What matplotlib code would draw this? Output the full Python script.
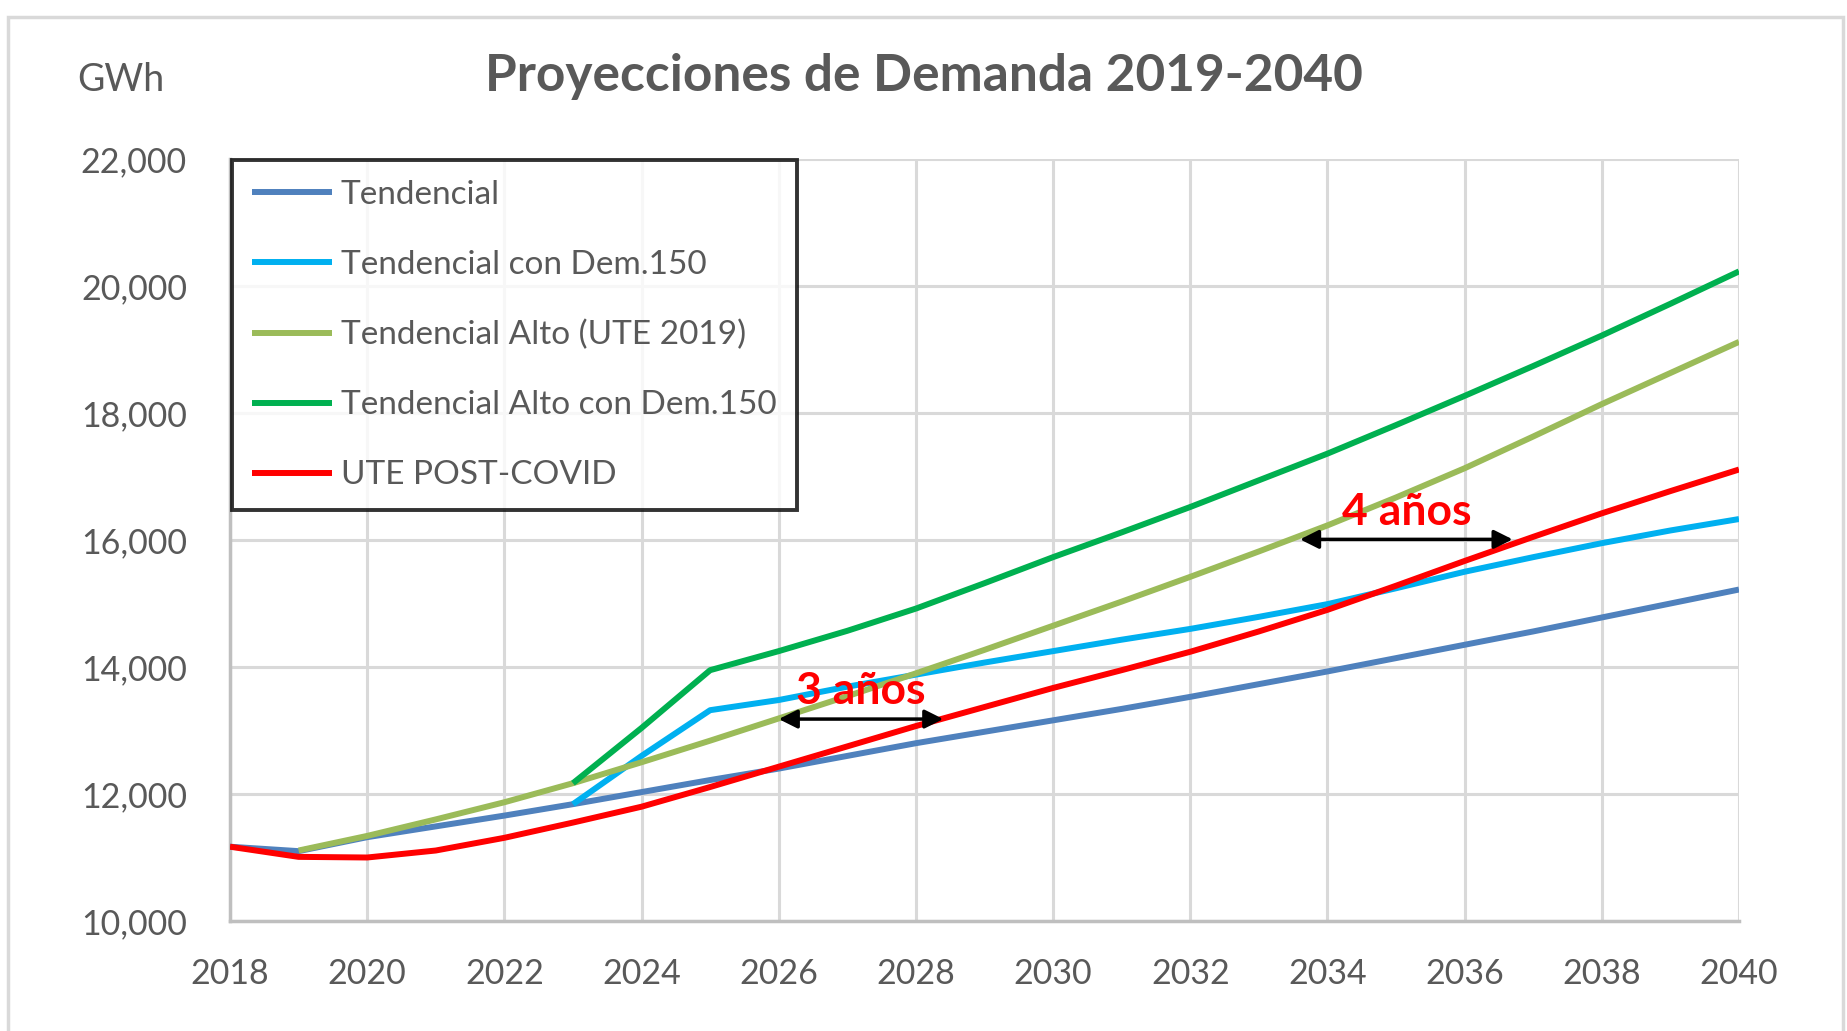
import numpy as np
import matplotlib
matplotlib.use("Agg")
import matplotlib.pyplot as plt
from matplotlib.patches import Rectangle
from matplotlib.ticker import FuncFormatter

plt.rcParams['font.family'] = ['Lato', 'DejaVu Sans']

years = list(range(2018, 2041))
nan = float('nan')

tendencial = [11170, 11100, 11320, 11490, 11660, 11840, 12030, 12220, 12400, 12600,
              12800, 12980, 13160, 13340, 13530, 13730, 13930, 14140, 14350, 14560,
              14780, 15000, 15220]
tend_dem150 = [nan, nan, nan, nan, nan, 11840, 12600, 13320, 13480, 13690,
               13880, 14070, 14250, 14430, 14600, 14790, 14990, 15240, 15500, 15730,
               15950, 16150, 16330]
tend_alto = [nan, 11110, 11340, 11600, 11870, 12170, 12500, 12840, 13190, 13540,
             13900, 14270, 14650, 15030, 15420, 15820, 16230, 16670, 17130, 17630,
             18140, 18630, 19120]
alto_dem150 = [nan, nan, nan, nan, nan, 12170, 13040, 13950, 14250, 14570,
               14920, 15320, 15730, 16120, 16520, 16940, 17360, 17810, 18270, 18740,
               19220, 19720, 20230]
ute_postcovid = [11170, 11010, 11000, 11110, 11310, 11550, 11800, 12110, 12430, 12750,
                 13070, 13370, 13670, 13950, 14240, 14560, 14900, 15280, 15670, 16050,
                 16420, 16770, 17110]

series_labels = ["Tendencial", "Tendencial con Dem.150", "Tendencial Alto (UTE 2019)",
                 "Tendencial Alto con Dem.150", "UTE POST-COVID"]
colors = ["#4F81BD", "#00B0F0", "#9BBB59", "#00B050", "#FF0000"]

x_ticks = list(range(2018, 2041, 2))
y_ticks = list(range(10000, 22001, 2000))

gap_labels = ["3 años", "4 años"]
gap_start = [2026.0, 2033.6]
gap_end = [2028.4, 2036.7]
gap_level = [13180, 16010]

W, H = 1847, 1031
fig = plt.figure(figsize=(W / 100, H / 100), dpi=100)
fig.patches.append(Rectangle((8 / W, -0.01), (1843 - 8) / W, 1.01 - 17 / H,
                             transform=fig.transFigure, fill=False,
                             edgecolor="#d9d9d9", linewidth=2.5, zorder=0))

ax = fig.add_axes([230 / W, 1 - 921 / H, (1739 - 230) / W, (921 - 159) / H])

data = [tendencial, tend_dem150, tend_alto, alto_dem150, ute_postcovid]
for vals, lab, c in zip(data, series_labels, colors):
    ax.plot(years, vals, color=c, linewidth=4.3, label=lab, solid_capstyle='butt',
            solid_joinstyle='round', zorder=3)

ax.set_xlim(2018, 2040)
ax.set_ylim(10000, 22000)
ax.set_xticks(x_ticks)
ax.set_yticks(y_ticks)
ax.yaxis.set_major_formatter(FuncFormatter(lambda v, p: f"{int(v):,}"))
ax.grid(True, color="#d9d9d9", linewidth=2.2, zorder=0)
ax.set_axisbelow(True)
for s in ["top", "right"]:
    ax.spines[s].set_visible(False)
for s in ["left", "bottom"]:
    ax.spines[s].set_color("#bfbfbf")
    ax.spines[s].set_linewidth(2.5)
ax.tick_params(axis='both', length=0, labelsize=24.5, colors="#595959")
ax.tick_params(axis='y', pad=31)
ax.tick_params(axis='x', pad=27)

fig.text(924 / W, 1 - 76 / H, "Proyecciones de Demanda 2019-2040", ha='center', va='center',
         fontsize=37, fontweight='bold', color="#595959")
fig.text(77 / W, 1 - 80 / H, "GWh", ha='left', va='center', fontsize=27, color="#595959")

for x0, x1, yv, txt in zip(gap_start, gap_end, gap_level, gap_labels):
    ax.annotate("", xy=(x0, yv), xytext=(x1, yv),
                arrowprops=dict(arrowstyle="<|-|>", color="black", lw=2.5,
                                mutation_scale=28, shrinkA=0, shrinkB=0), zorder=5)
    ax.annotate(txt, xy=((x0 + x1) / 2, yv), xytext=(0, 20), textcoords='offset points',
                ha='center', va='center', fontsize=32, fontweight='bold',
                color="#FF0000", zorder=6)

leg = ax.legend(loc='upper left', bbox_to_anchor=(0.0013, 0.9987), frameon=True, fancybox=False,
                fontsize=24, labelspacing=1.2, handlelength=2.4, handletextpad=0.27,
                borderpad=0.6, borderaxespad=0)
leg.get_frame().set_edgecolor("black")
leg.get_frame().set_linewidth(2.8)
for t in leg.get_texts():
    t.set_color("#595959")

fig.savefig("out.png", dpi=100)
